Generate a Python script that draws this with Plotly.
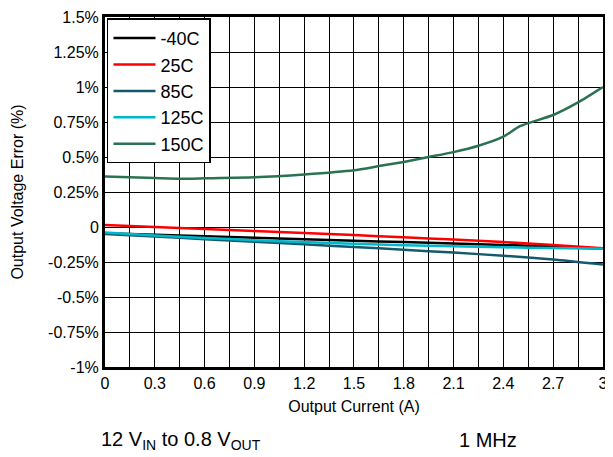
import plotly.graph_objects as go

# Output current (A)
current = [0, 0.3, 0.6, 0.9, 1.2, 1.5, 1.8, 2.1, 2.4, 2.7, 3.0]

# Output voltage error (%) per temperature
err_m40 = [-0.045, -0.055, -0.066, -0.077, -0.088, -0.098, -0.108, -0.118, -0.128, -0.140, -0.155]
err_25 = [0.015, 0.0, -0.014, -0.028, -0.043, -0.058, -0.074, -0.090, -0.108, -0.128, -0.152]
err_85 = [-0.05, -0.068, -0.087, -0.105, -0.124, -0.143, -0.162, -0.183, -0.205, -0.232, -0.268]
err_125 = [-0.04, -0.06, -0.078, -0.094, -0.108, -0.12, -0.13, -0.138, -0.145, -0.15, -0.155]

cur_150 = [0, 0.3, 0.45, 0.6, 0.9, 1.2, 1.5, 1.65, 1.8, 1.95, 2.1, 2.25, 2.4, 2.5, 2.7, 2.85, 3.0]
err_150 = [0.36, 0.35, 0.345, 0.348, 0.355, 0.375, 0.405, 0.435, 0.465, 0.5, 0.535, 0.58, 0.645, 0.72, 0.80, 0.89, 1.0]

series = [
    ("-40C", current, err_m40, "#000000"),
    ("25C", current, err_25, "#FF0000"),
    ("85C", current, err_85, "#145A6E"),
    ("125C", current, err_125, "#00B8CC"),
    ("150C", cur_150, err_150, "#2A7352"),
]

y_ticks = [-1, -0.75, -0.5, -0.25, 0, 0.25, 0.5, 0.75, 1, 1.25, 1.5]
y_labels = ["-1%", "-0.75%", "-0.5%", "-0.25%", "0", "0.25%", "0.5%", "0.75%", "1%", "1.25%", "1.5%"]
x_ticks = [0, 0.3, 0.6, 0.9, 1.2, 1.5, 1.8, 2.1, 2.4, 2.7, 3]
x_labels = ["0", "0.3", "0.6", "0.9", "1.2", "1.5", "1.8", "2.1", "2.4", "2.7", "3"]

fig = go.Figure()
for name, xs, ys, color in series:
    fig.add_trace(go.Scatter(x=xs, y=ys, mode="lines", name=name,
                             line=dict(color=color, width=2.5, shape="spline", smoothing=0.6)))

font = dict(family="Liberation Sans, Arial, sans-serif", size=16, color="black")

# page body adds an 8px margin, so the figure is sized 8px smaller on each side
fig.update_layout(
    width=605, height=449,
    margin=dict(l=97, r=10, t=9, b=90, autoexpand=False),
    paper_bgcolor="white", plot_bgcolor="white",
    font=font,
    showlegend=True,
    legend=dict(x=0.004, y=0.996, xanchor="left", yanchor="top",
                bgcolor="white", bordercolor="black", borderwidth=1.5,
                font=dict(size=18), tracegroupgap=0, itemwidth=42),
    xaxis=dict(range=[0, 3.0005], tickvals=x_ticks, ticktext=x_labels, automargin=False,
               ticklabeloverflow="allow",
               showgrid=True, gridcolor="#000000", gridwidth=1,
               minor=dict(dtick=0.15, tick0=0, showgrid=True, gridcolor="#000000", gridwidth=1),
               showline=True, linecolor="black", linewidth=3, mirror=True,
               ticks="", zeroline=False,
               title=dict(text="Output Current (A)", standoff=10, font=dict(size=16))),
    yaxis=dict(range=[-1, 1.5], tickvals=y_ticks, ticktext=y_labels, automargin=False,
               showgrid=True, gridcolor="#000000", gridwidth=1,
               showline=True, linecolor="black", linewidth=3, mirror=True,
               ticks="", zeroline=False,
               title=dict(text="Output Voltage Error (%)", standoff=21, font=dict(size=16))),
    annotations=[
        dict(text="12 V<sub>IN</sub> to 0.8 V<sub>OUT</sub>", xref="paper", yref="paper",
             x=-0.012, y=-0.209, xanchor="left", yanchor="middle", showarrow=False,
             font=dict(size=20)),
        dict(text="1 MHz", xref="paper", yref="paper",
             x=0.77, y=-0.209, xanchor="center", yanchor="middle", showarrow=False,
             font=dict(size=20)),
    ],
)

fig.write_html("out.html")
